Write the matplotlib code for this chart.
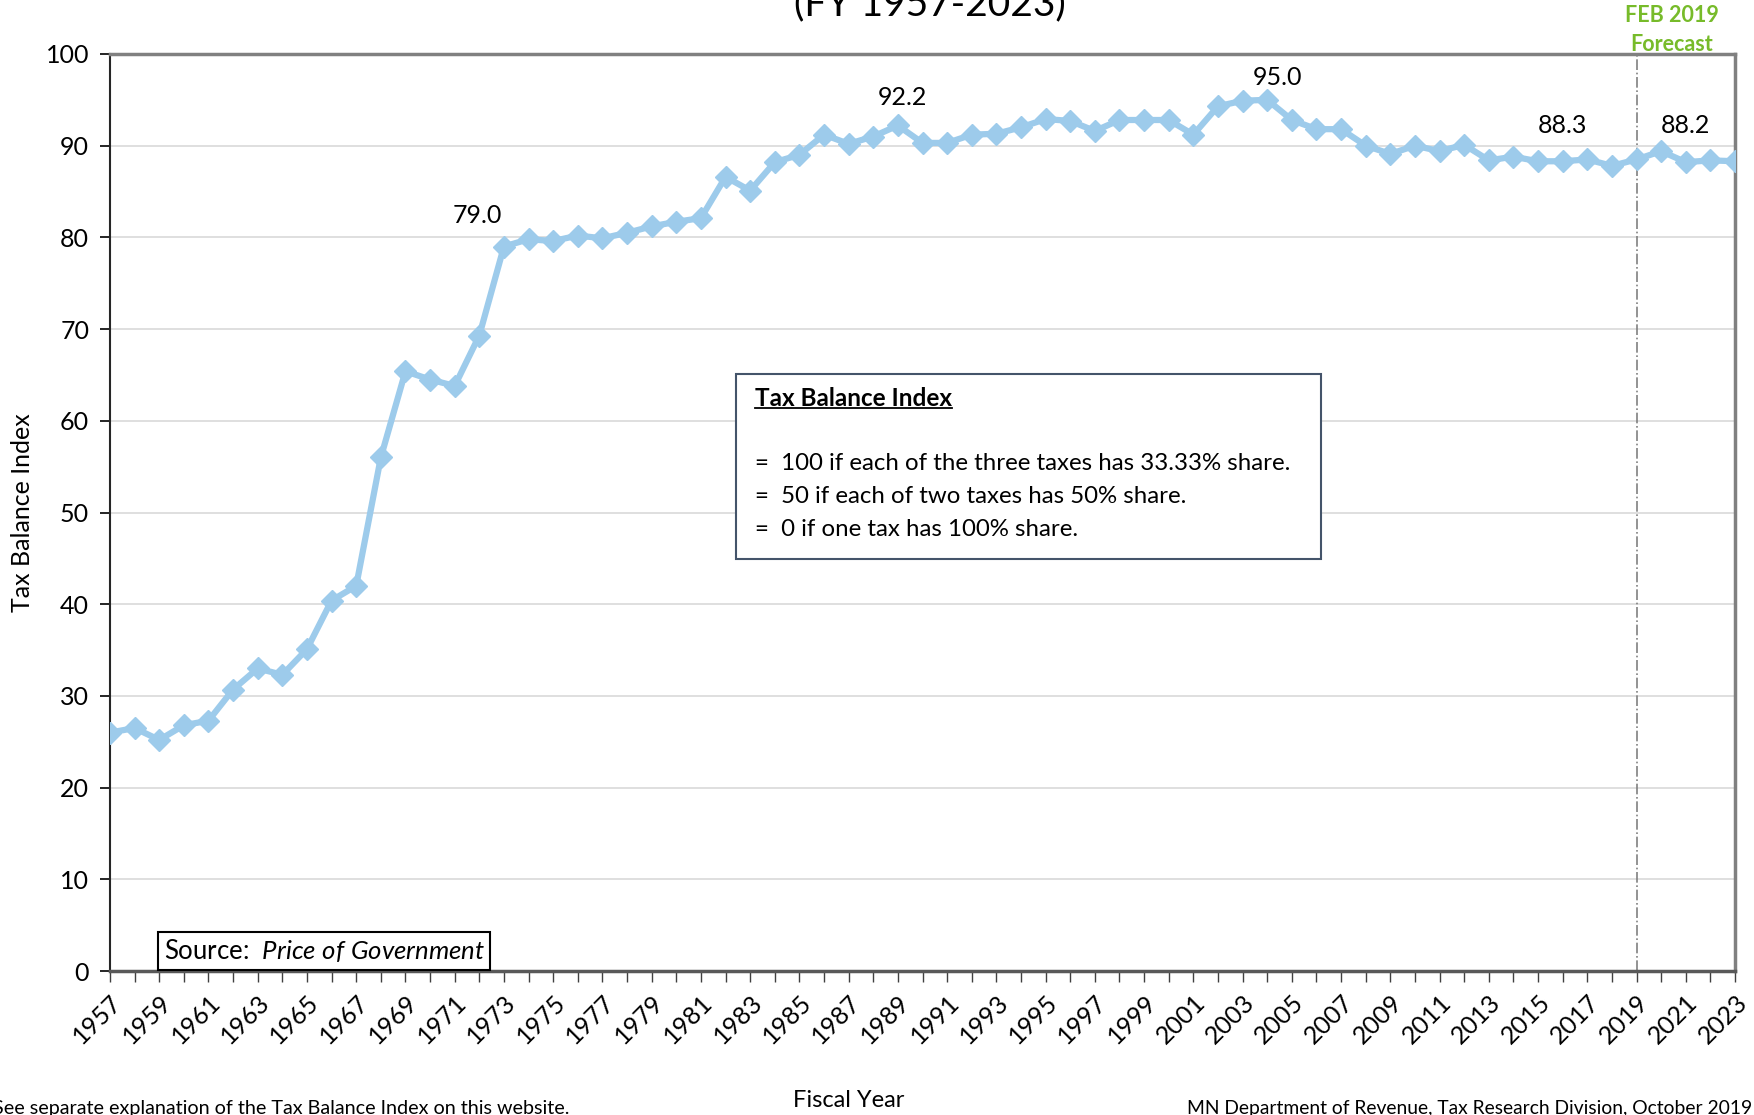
import numpy as np
import matplotlib
matplotlib.use("Agg")
import matplotlib.pyplot as plt
from matplotlib.patches import Rectangle
from matplotlib.lines import Line2D

plt.rcParams['font.family'] = ['Lato', 'DejaVu Sans']
plt.rcParams['mathtext.fontset'] = 'custom'
plt.rcParams['mathtext.rm'] = 'Lato'
plt.rcParams['mathtext.it'] = 'Lato:italic'

years = list(range(1957, 2024))
tbi = [26.0, 26.5, 25.2, 26.8, 27.3, 30.7, 33.0, 32.3, 35.1, 40.4,
       42.0, 56.0, 65.4, 64.5, 63.8, 69.3, 79.0, 79.8, 79.6, 80.2,
       79.9, 80.5, 81.2, 81.7, 82.1, 86.6, 85.1, 88.2, 89.0, 91.2,
       90.2, 91.0, 92.2, 90.3, 90.3, 91.2, 91.3, 92.0, 92.9, 92.7,
       91.6, 92.8, 92.8, 92.8, 91.2, 94.3, 94.9, 95.0, 92.8, 91.8,
       91.8, 90.0, 89.1, 90.0, 89.4, 90.1, 88.4, 88.8, 88.3, 88.3,
       88.5, 87.8, 88.5, 89.4, 88.2, 88.4, 88.3]

# value labels: (text, x, y)
labels = [("79.0", 1971.9, 82.4), ("92.2", 1989.2, 95.3), ("95.0", 2004.4, 97.4),
          ("88.3", 2016.0, 92.2), ("88.2", 2021.0, 92.2)]
forecast_year = 2019

box_lines = ["=  100 if each of the three taxes has 33.33% share.",
             "=  50 if each of two taxes has 50% share.",
             "=  0 if one tax has 100% share."]

fig = plt.figure(figsize=(17.54, 11.15), dpi=100)
ax = fig.add_axes([0.0627, 0.1291, 0.9265, 0.8225])

ax.plot(years, tbi, color='#9DCBEB', lw=4.5, marker='D', ms=11, zorder=3)

ax.set_xlim(1957, 2023)
ax.set_ylim(0, 100)
ax.set_yticks(range(0, 101, 10))
ax.set_xticks(years[::2])
ax.set_xticks(years, minor=True)
ax.set_xticklabels([str(y) for y in years[::2]], rotation=45, ha='right',
                   rotation_mode='anchor', fontsize=18)
ax.tick_params(axis='y', labelsize=18, length=7, width=1.2, pad=8)
ax.tick_params(axis='x', which='both', length=8, width=1.0, color='#404040', pad=6)
ax.yaxis.grid(True, color='#d9d9d9', lw=1.2)
ax.set_axisbelow(True)

for s in ['top', 'right']:
    ax.spines[s].set_color('#808080')
    ax.spines[s].set_linewidth(2.5)
ax.spines['bottom'].set_color('#595959')
ax.spines['bottom'].set_linewidth(2.5)
ax.spines['left'].set_color('#262626')
ax.spines['left'].set_linewidth(1.5)

ax.axvline(forecast_year, color='#808080', lw=1.2, ls='-.', zorder=2)

for t, x, y in labels:
    ax.text(x, y, t, ha='center', va='center', fontsize=18)

ax.set_ylabel("Tax Balance Index", fontsize=18, labelpad=10)
ax.yaxis.set_label_coords(-0.047, 0.5)

# explanation box
ax.add_patch(Rectangle((0.385, 0.449), 0.36, 0.202, transform=ax.transAxes,
                       facecolor='white', edgecolor='#44546A', lw=1.5, zorder=5))
header = ax.text(0.397, 0.624, "Tax Balance Index", transform=ax.transAxes,
                 fontsize=17.5, fontweight='bold', va='center', zorder=6)
for i, line in enumerate(box_lines):
    ax.text(0.397, 0.553 - i * 0.0355, line, transform=ax.transAxes,
            fontsize=17.3, va='center', zorder=6)

ax.text(0.033, 0.022, r"Source:  $\it{Price\ of\ Government}$", transform=ax.transAxes,
        fontsize=18.5, va='center', zorder=6,
        bbox=dict(boxstyle='square,pad=0.2', fc='white', ec='black', lw=1.5))

# title (partly cut at top) and forecast note
fig.text(0.53, 0.9865, "(FY 1957-2023)", ha='center', va='baseline', fontsize=28)
fig.text(0.953, 0.986, "FEB 2019", ha='center', va='center', fontsize=15.5,
         fontweight='bold', color='#77BB2A')
fig.text(0.953, 0.960, "Forecast", ha='center', va='center', fontsize=15.5,
         fontweight='bold', color='#77BB2A')

fig.text(0.484, 0.004, "Fiscal Year", ha='center', va='bottom', fontsize=17)
fig.text(-0.004, -0.002, "See separate explanation of the Tax Balance Index on this website.",
         ha='left', va='bottom', fontsize=14.2)
fig.text(0.999, -0.002, "MN Department of Revenue, Tax Research Division, October 2019",
         ha='right', va='bottom', fontsize=13.9)

# underline header
fig.canvas.draw()
bb = header.get_window_extent().transformed(ax.transAxes.inverted())
ax.add_line(Line2D([bb.x0, bb.x1], [bb.y0 + 0.002, bb.y0 + 0.002], transform=ax.transAxes,
                   color='black', lw=1.3, zorder=6))

fig.savefig("out.png", dpi=100)
